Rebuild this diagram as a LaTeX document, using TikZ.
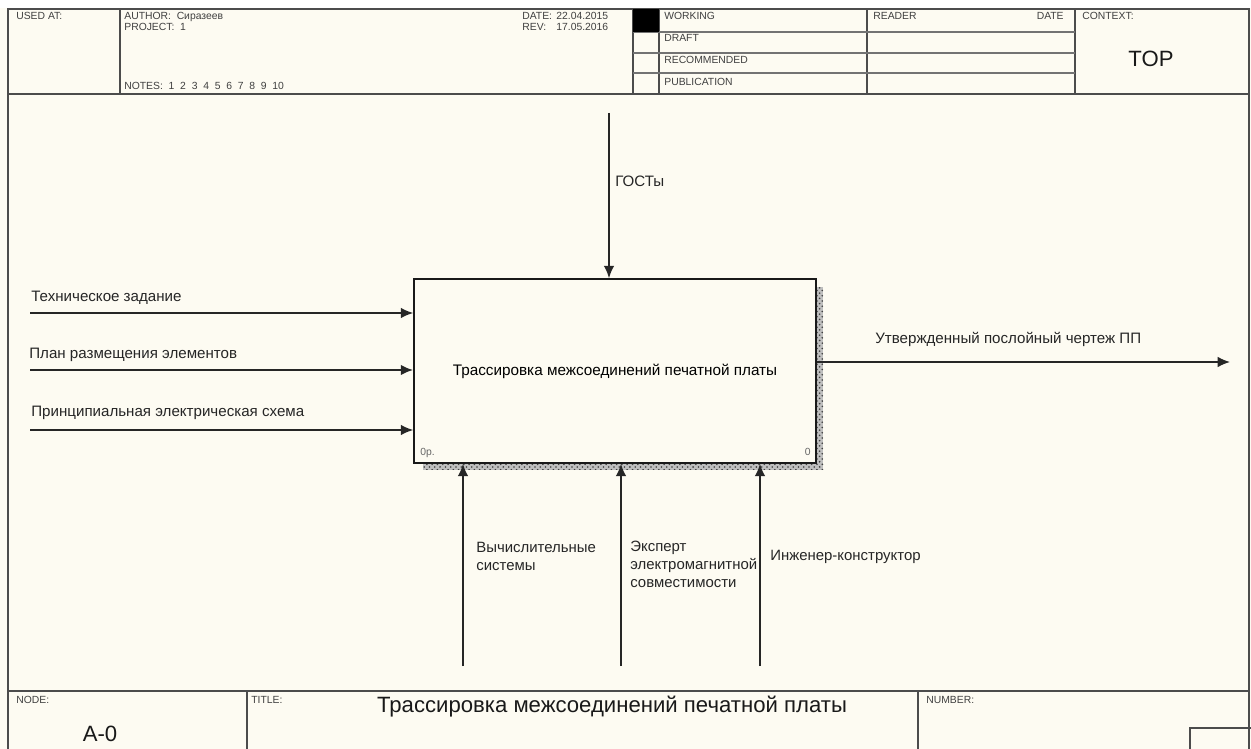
\documentclass[tikz,border=0pt]{standalone}
\usepackage{fontspec}
\setmainfont{Liberation Sans}
\usetikzlibrary{arrows.meta,patterns}
\definecolor{paper}{HTML}{FDFBF2}
\tikzset{
  frameline/.style={line width=0.8pt, draw=black!70},
  gridline/.style={line width=0.6pt, draw=black!55},
  headtext/.style={anchor=base west, inner sep=0pt, text=black!75, font=\fontsize{5.9}{6.5}\selectfont},
  flowlabel/.style={anchor=base west, inner sep=0pt, text=black!85, font=\fontsize{8.6}{10}\selectfont},
  stacklabel/.style={anchor=north west, inner sep=0pt, align=left, text=black!85, font=\fontsize{8.5}{10.2}\selectfont},
  bigtext/.style={inner sep=0pt, text=black!90, font=\fontsize{12.6}{14}\selectfont},
  activity/.style={draw=black!90, line width=1pt, fill=paper, minimum width=8.04cm, minimum height=3.68cm, inner sep=0pt, font=\fontsize{8.7}{10}\selectfont},
  flow/.style={line width=0.85pt, draw=black!85, -{Latex[length=7pt,width=6pt]}},
  shade/.style={fill=black!25, postaction={pattern=crosshatch dots, pattern color=black!75}},
}
\begin{document}
\begin{tikzpicture}[x=0.02cm, y=-0.02cm]
\useasboundingbox (0,0) rectangle (1251,749);
\fill[paper] (0,0) rectangle (1251,749);
\fill[white] (0,0) rectangle (1251,8);

% header
\draw[frameline] (8,749) -- (8,9) -- (1249,9) -- (1249,749);
\draw[frameline] (8,94) -- (1249,94);
\foreach \x in {120,633,659,867,1075}
  \draw[frameline] (\x,9) -- (\x,94);
\foreach \y in {32,53,73}
  \draw[gridline] (633,\y) -- (1075,\y);
\fill[black] (633,9) rectangle (659,32);
\node[headtext] (usedat) at (16,20) {USED AT:};
\node[headtext] (author) at (124,20) {AUTHOR:\ \ Сиразеев};
\node[headtext] (project) at (124,31) {PROJECT:\ \ 1};
\node[headtext] (notes) at (124,90) {NOTES:\ \ 1\ \ 2\ \ 3\ \ 4\ \ 5\ \ 6\ \ 7\ \ 8\ \ 9\ \ 10};
\node[headtext] (datekey) at (522,20) {DATE:};
\node[headtext] (dateval) at (556,20) {22.04.2015};
\node[headtext] (revkey) at (522,31) {REV:};
\node[headtext] (revval) at (556,31) {17.05.2016};
\node[headtext] (working) at (664,20) {WORKING};
\node[headtext] (draft) at (664,42) {DRAFT};
\node[headtext] (recommended) at (664,64) {RECOMMENDED};
\node[headtext] (publication) at (664,86) {PUBLICATION};
\node[headtext] (reader) at (873,20) {READER};
\node[headtext, anchor=base east] (readerdate) at (1064,20) {DATE};
\node[headtext] (context) at (1082,20) {CONTEXT:};
\node[bigtext] (top) at (1151,59) {TOP};

% activity box
\fill[shade] (816,287) rectangle (823,470);
\fill[shade] (423,463) rectangle (823,470);
\node[activity] (box) at (615,371) {Трассировка межсоединений печатной платы};
\node[headtext, text=black!60] (boxid) at (420,456) {0р.};
\node[headtext, text=black!60, anchor=base east] (boxnum) at (811,456) {0};

% arrows
\coordinate (ctrl) at (609,113);
\coordinate (in1) at (30,313);
\coordinate (in2) at (30,370);
\coordinate (in3) at (30,430);
\coordinate (out) at (1230,362);
\coordinate (mech1) at (463,666);
\coordinate (mech2) at (621,666);
\coordinate (mech3) at (760,666);
\draw[flow] (ctrl) -- (ctrl |- box.north);
\draw[flow] (in1) -- (in1 -| box.west);
\draw[flow, line width=1.2pt] (in2) -- (in2 -| box.west);
\draw[flow] (in3) -- (in3 -| box.west);
\draw[flow] (out -| box.east) -- (out);
\draw[flow] (mech1) -- (mech1 |- box.south);
\draw[flow] (mech2) -- (mech2 |- box.south);
\draw[flow] (mech3) -- (mech3 |- box.south);
\node[flowlabel] (gost) at (615,187) {ГОСТы};
\node[flowlabel] (spec) at (31,302) {Техническое задание};
\node[flowlabel] (layout) at (29,359) {План размещения элементов};
\node[flowlabel] (scheme) at (31,417) {Принципиальная электрическая схема};
\node[flowlabel] (result) at (875,344) {Утвержденный послойный чертеж ПП};
\node[stacklabel] (computers) at (476,542) {Вычислительные\\системы};
\node[stacklabel] (expert) at (630,541) {Эксперт\\электромагнитной\\совместимости};
\node[stacklabel] (engineer) at (770,550) {Инженер-конструктор};

% footer
\draw[frameline] (8,691) -- (1249,691);
\foreach \x in {247,918}
  \draw[frameline] (\x,691) -- (\x,749);
\draw[frameline] (1190,749) -- (1190,728) -- (1251,728);
\node[headtext] (nodekey) at (16,703) {NODE:};
\node[bigtext] (nodeval) at (100,734) {A-0};
\node[headtext] (titlekey) at (251,703) {TITLE:};
\node[bigtext] (title) at (612,707) {Трассировка межсоединений печатной платы};
\node[headtext] (numberkey) at (926,703) {NUMBER:};
\end{tikzpicture}
\end{document}
